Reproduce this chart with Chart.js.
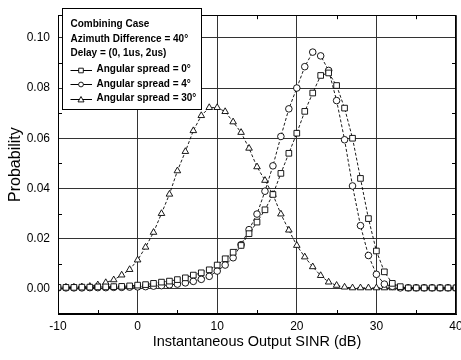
<!DOCTYPE html>
<html>
<head>
<meta charset="utf-8">
<script src="https://cdn.jsdelivr.net/npm/chart.js@4.4.0/dist/chart.umd.min.js"></script>
<style>
  html, body { margin: 0; padding: 0; background: #fff; }
  #wrap { width: 461px; height: 360px; }
</style>
</head>
<body>
<div id="wrap"><canvas id="myChart"></canvas></div>
<script>
// x values (dB)
var sinrDb = [-10, -9, -8, -7, -6, -5, -4, -3, -2, -1,
  0, 1, 2, 3, 4, 5, 6, 7, 8, 9,
  10, 11, 12, 13, 14, 15, 16, 17, 18, 19,
  20, 21, 22, 23, 24, 25, 26, 27, 28, 29,
  30, 31, 32, 33, 34, 35, 36, 37, 38, 39, 40];

// angular spread = 0 deg (squares)
var spread0 = [0.0006, 0.0006, 0.0006, 0.0007, 0.0007, 0.0008, 0.0008, 0.0009, 0.0010, 0.0012,
  0.0015, 0.0017, 0.0022, 0.0027, 0.0031, 0.0037, 0.0044, 0.0055, 0.0064, 0.0076,
  0.0095, 0.0120, 0.0146, 0.0173, 0.0220, 0.0266, 0.0315, 0.0376, 0.0460, 0.0540,
  0.0620, 0.0707, 0.0780, 0.0850, 0.0860, 0.0810, 0.0720, 0.0600, 0.0440, 0.0280,
  0.0151, 0.0068, 0.0022, 0.0009, 0.0004, 0.0004, 0.0004, 0.0004, 0.0004, 0.0004, 0.0004];

// angular spread = 4 deg (circles)
var spread4 = [0.0004, 0.0004, 0.0004, 0.0004, 0.0005, 0.0005, 0.0005, 0.0006, 0.0006, 0.0007,
  0.0008, 0.0009, 0.0011, 0.0013, 0.0016, 0.0019, 0.0024, 0.0030, 0.0038, 0.0050,
  0.0071, 0.0095, 0.0124, 0.0176, 0.0236, 0.0298, 0.0389, 0.0490, 0.0607, 0.0717,
  0.0800, 0.0885, 0.0943, 0.0928, 0.0870, 0.0750, 0.0594, 0.0410, 0.0252, 0.0133,
  0.0058, 0.0019, 0.0010, 0.0004, 0.0004, 0.0004, 0.0004, 0.0004, 0.0004, 0.0004, 0.0004];

// angular spread = 30 deg (triangles)
var spread30 = [0.0007, 0.0007, 0.0007, 0.0008, 0.0010, 0.0016, 0.0025, 0.0036, 0.0055, 0.0077,
  0.0115, 0.0166, 0.0225, 0.0300, 0.0377, 0.0470, 0.0547, 0.0630, 0.0690, 0.0722,
  0.0722, 0.0706, 0.0665, 0.0623, 0.0560, 0.0486, 0.0432, 0.0376, 0.0298, 0.0234,
  0.0173, 0.0127, 0.0088, 0.0053, 0.0027, 0.0014, 0.0007, 0.0004, 0.0004, 0.0004,
  0.0004, 0.0004, 0.0004, 0.0004, 0.0004, 0.0004, 0.0004, 0.0004, 0.0004, 0.0004, 0.0004];

var xTicks = [-10, 0, 10, 20, 30, 40];
var yTicks = [0, 0.02, 0.04, 0.06, 0.08, 0.10];
var xMinor = [-5, 5, 15, 25, 35];
var yMinor = [0.01, 0.03, 0.05, 0.07, 0.09];

var legendHead = ['Combining Case', 'Azimuth Difference = 40\u00b0', 'Delay = (0, 1us, 2us)'];
var legendItems = [
  { text: 'Angular spread = 0\u00b0', mark: 'rect' },
  { text: 'Angular spread = 4\u00b0', mark: 'circle' },
  { text: 'Angular spread = 30\u00b0', mark: 'triangle' }
];

var FONT = '"Liberation Sans", Arial, sans-serif';

function toPoints(ys) {
  return sinrDb.map(function(x, i) { return { x: x, y: ys[i] }; });
}

function makeSet(label, ys, style, radius) {
  return {
    label: label,
    data: toPoints(ys),
    borderColor: '#000',
    borderWidth: 0.9,
    borderDash: [3, 2],
    pointStyle: style,
    pointRadius: radius,
    pointBorderWidth: 0.9,
    pointBorderColor: '#000',
    pointBackgroundColor: '#fff',
    tension: 0
  };
}

// draw a small marker for the legend
function drawMark(ctx, kind, cx, cy) {
  ctx.beginPath();
  if (kind == 'circle') {
    ctx.arc(cx, cy, 2.4, 0, Math.PI * 2);
  } else if (kind == 'rect') {
    ctx.rect(cx - 2.3, cy - 2.3, 4.6, 4.6);
  } else {
    ctx.moveTo(cx, cy - 3);
    ctx.lineTo(cx + 3, cy + 2.4);
    ctx.lineTo(cx - 3, cy + 2.4);
    ctx.closePath();
  }
  ctx.fillStyle = '#fff';
  ctx.fill();
  ctx.stroke();
}

const framePlugin = {
  id: 'framePlugin',
  afterDatasetsDraw(chart) {
    const ctx = chart.ctx;
    const a = chart.chartArea;
    const xs = chart.scales.x;
    const ys = chart.scales.y;
    ctx.save();
    ctx.strokeStyle = '#000';
    ctx.lineWidth = 1;
    // frame
    ctx.strokeRect(Math.round(a.left) + 0.5, Math.round(a.top) + 0.5,
      Math.round(a.right - a.left) - 1, Math.round(a.bottom - a.top) - 1);
    // minor ticks
    ctx.beginPath();
    xMinor.forEach(function(v) {
      const px = Math.round(xs.getPixelForValue(v)) + 0.5;
      ctx.moveTo(px, a.bottom); ctx.lineTo(px, a.bottom - 4);
      ctx.moveTo(px, a.top); ctx.lineTo(px, a.top + 4);
    });
    yMinor.forEach(function(v) {
      const py = Math.round(ys.getPixelForValue(v)) + 0.5;
      ctx.moveTo(a.left, py); ctx.lineTo(a.left + 4, py);
      ctx.moveTo(a.right, py); ctx.lineTo(a.right - 4, py);
    });
    ctx.stroke();

    // legend box
    const bx = 62.5, by = 8.5, bw = 139, bh = 101;
    ctx.fillStyle = '#fff';
    ctx.fillRect(bx, by, bw, bh);
    ctx.strokeRect(bx, by, bw, bh);
    ctx.fillStyle = '#000';
    ctx.font = 'bold 10px ' + FONT;
    ctx.textBaseline = 'middle';
    ctx.textAlign = 'left';
    const headY = [24.5, 39, 53.5];
    legendHead.forEach(function(t, i) { ctx.fillText(t, 70.5, headY[i]); });
    const itemY = [69.5, 84, 98.5];
    legendItems.forEach(function(it, i) {
      const y = itemY[i];
      ctx.fillStyle = '#000';
      ctx.fillText(it.text, 96.5, y);
      ctx.lineWidth = 1;
      ctx.beginPath();
      ctx.moveTo(70.5, Math.round(y) + 0.5);
      ctx.lineTo(92, Math.round(y) + 0.5);
      ctx.stroke();
      ctx.lineWidth = 0.9;
      drawMark(ctx, it.mark, 81, Math.round(y) + 0.5);
    });
    ctx.restore();
  }
};

const config = {
  type: 'line',
  data: {
    datasets: [
      makeSet('Angular spread = 0\u00b0', spread0, 'rect', 4),
      makeSet('Angular spread = 4\u00b0', spread4, 'circle', 3.3),
      makeSet('Angular spread = 30\u00b0', spread30, 'triangle', 3.8)
    ]
  },
  options: {
    responsive: true,
    maintainAspectRatio: false,
    animation: false,
    layout: { padding: { top: 7, right: 5, left: 0, bottom: 0 } },
    plugins: {
      legend: { display: false },
      tooltip: { enabled: false }
    },
    scales: {
      x: {
        type: 'linear',
        min: -10,
        max: 40,
        afterBuildTicks: function(scale) {
          scale.ticks = xTicks.map(function(v) { return { value: v }; });
        },
        afterFit: function(scale) {
          scale.height = 46;
          scale.paddingLeft = 0;
          scale.paddingRight = 0;
        },
        ticks: {
          color: '#000',
          font: { family: FONT, size: 12 },
          padding: 5,
          maxRotation: 0,
          autoSkip: false
        },
        grid: { color: '#333', lineWidth: 1, drawTicks: false },
        border: { color: '#000' },
        title: {
          display: true,
          text: 'Instantaneous Output SINR (dB)',
          color: '#000',
          font: { family: FONT, size: 14.5 },
          padding: { top: 0, bottom: 9 }
        }
      },
      y: {
        type: 'linear',
        min: -0.01,
        max: 0.109,
        afterBuildTicks: function(scale) {
          scale.ticks = yTicks.map(function(v) { return { value: v }; });
        },
        afterFit: function(scale) {
          scale.width = 58;
        },
        ticks: {
          color: '#000',
          font: { family: FONT, size: 12 },
          padding: 8,
          callback: function(v) { return Number(v).toFixed(2); }
        },
        grid: { color: '#333', lineWidth: 1, drawTicks: false },
        border: { color: '#000' },
        title: {
          display: true,
          text: 'Probability',
          color: '#000',
          font: { family: FONT, size: 16 },
          padding: { top: 6, bottom: 0 }
        }
      }
    }
  },
  plugins: [framePlugin]
};

var myChart = new Chart(document.getElementById('myChart'), config);
</script>
</body>
</html>
